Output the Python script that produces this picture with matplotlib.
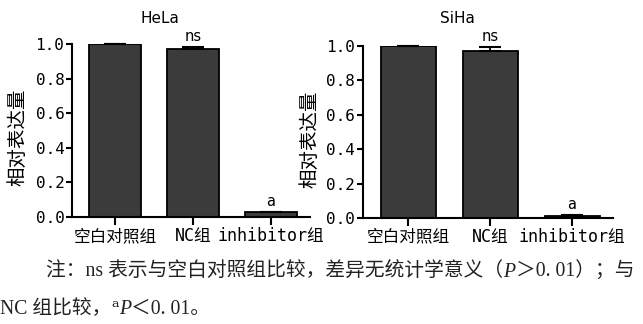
import numpy as np
import matplotlib
matplotlib.use('Agg')
import matplotlib.pyplot as plt
from matplotlib.offsetbox import TextArea, HPacker, AnchoredOffsetbox

# relative expression, mean and SD, per cell line
groups = ['空白对照组', 'NC组', 'inhibitor组']
hela_mean = [1.0, 0.973, 0.027]
hela_err = [0.0, 0.010, 0.005]
siha_mean = [1.0, 0.970, 0.013]
siha_err = [0.0, 0.027, 0.004]
marks = ['', 'ns', 'a']

mono = ['DejaVu Sans Mono', 'Noto Sans CJK SC']
serif = ['Liberation Serif', 'Noto Sans CJK SC']
plt.rcParams['font.family'] = mono

fig = plt.figure(figsize=(6.43, 3.24), dpi=100)
ax1 = fig.add_axes([0.112, 0.330, 0.370, 0.534])
ax2 = fig.add_axes([0.5645, 0.327, 0.389, 0.531])


def draw(ax, means, errs, title, tx, lx):
    x = np.arange(len(groups))
    ax.bar(x, means, width=0.67, color='#3b3b3b', edgecolor='black', lw=1.3,
           zorder=2)
    ax.errorbar(x, means, yerr=[np.zeros(3), errs], fmt='none', ecolor='black',
                elinewidth=1.3, capsize=8, capthick=1.5, zorder=3, clip_on=False)
    for xi, m, e, s in zip(x, means, errs, marks):
        if s:
            ax.annotate(s, (xi, m + e), xytext=(0, 2), textcoords='offset points',
                        ha='center', va='bottom', fontsize=10.5, family='DejaVu Sans')
    ax.set_ylim(0, 1.0)
    ax.set_xlim(-0.55, 2.5)
    ax.set_yticks([0, 0.2, 0.4, 0.6, 0.8, 1.0])
    ax.set_yticklabels(['0.0', '0.2', '0.4', '0.6', '0.8', '1.0'], fontsize=11.5)
    ax.set_xticks(x)
    ax.set_xticklabels(groups, fontsize=12)
    for s in ['top', 'right']:
        ax.spines[s].set_visible(False)
    for s in ['left', 'bottom']:
        ax.spines[s].set_linewidth(1.5)
    ax.tick_params(axis='y', length=4.5, width=1.5, pad=1)
    ax.tick_params(axis='x', length=6, width=1.5, pad=1)
    ax.set_ylabel('相对表达量', fontsize=14, family='Noto Sans CJK SC')
    ax.yaxis.set_label_coords(lx, 0.46)
    fig.text(tx, 0.944, title, ha='center', va='center', fontsize=11,
             family='DejaVu Sans')


draw(ax1, hela_mean, hela_err, 'HeLa', 0.249, -0.185)
draw(ax2, siha_mean, siha_err, 'SiHa', 0.711, -0.172)


def caption_line(parts, x, y):
    boxes = []
    for txt, kw in parts:
        props = dict(fontsize=14.2, family=serif, color='#222222')
        props.update(kw)
        boxes.append(TextArea(txt, textprops=props))
    row = HPacker(children=boxes, align='baseline', pad=0, sep=0)
    box = AnchoredOffsetbox(loc='center left', child=row, pad=0, frameon=False,
                            bbox_to_anchor=(x, y), bbox_transform=fig.transFigure,
                            borderpad=0)
    fig.add_artist(box)


caption_line([('注：ns 表示与空白对照组比较，差异无统计学意义（', {}),
              ('P', {'style': 'italic'}),
              ('＞0. 01）；与', {})], 0.072, 0.160)
caption_line([('NC 组比较，', {}),
              ('ᵃ', {'family': 'DejaVu Serif'}),
              ('P', {'style': 'italic'}),
              ('＜0. 01。', {})], 0.0, 0.045)

fig.savefig('out.png', dpi=100)
